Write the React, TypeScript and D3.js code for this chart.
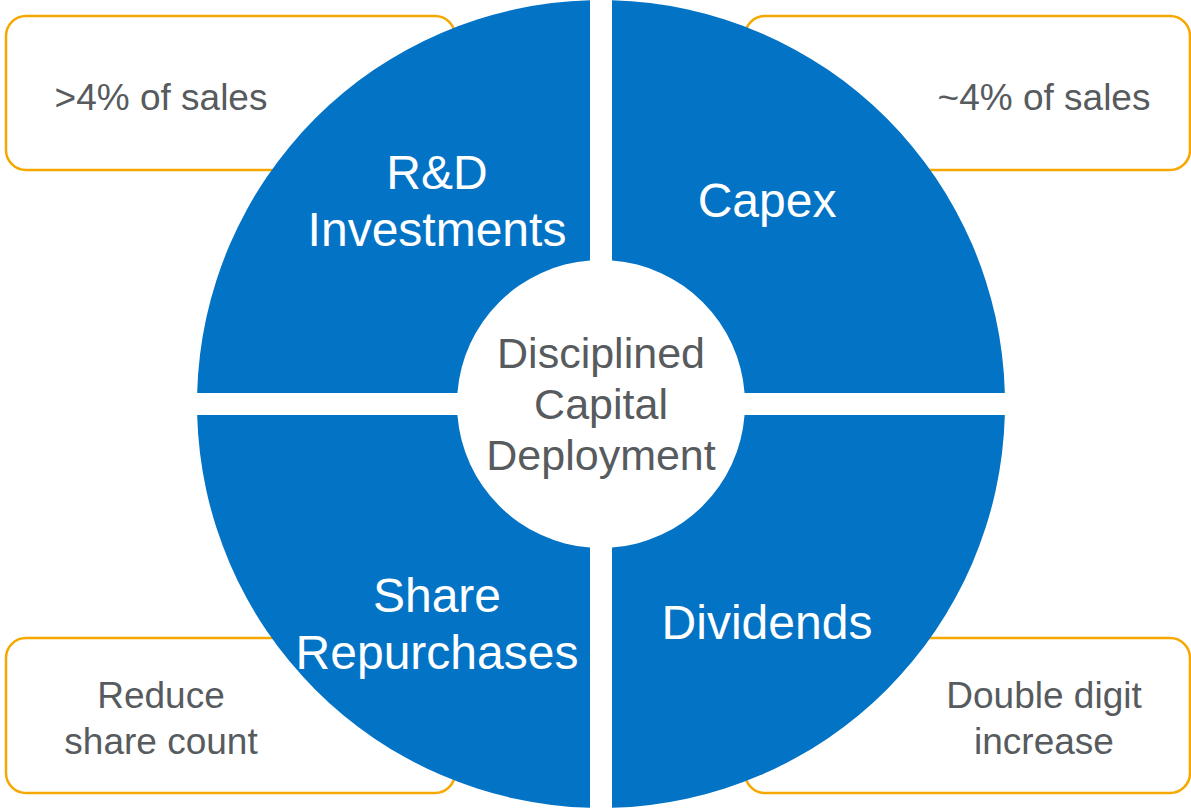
import React from "react";
import { pie, arc, PieArcDatum } from "d3";

const width = 1191;
const height = 808;

// chart setup
const center = { x: 601, y: 404 };
const outerR = 404;
const innerR = 144;
const gap = 22;

const blue = "#0373C6";
const orange = "#F7A800";
const gray = "#575B5E";

// Data
const quadrants = ["Capex", "Dividends", "Share Repurchases", "R&D Investments"];
const quadrantLines = [["Capex"], ["Dividends"], ["Share", "Repurchases"], ["R&D", "Investments"]];
const quadrantWeights = [1, 1, 1, 1];
const centerLines = ["Disciplined", "Capital", "Deployment"];
const boxLines = [["~4% of sales"], ["Double digit", "increase"], ["Reduce", "share count"], [">4% of sales"]];

// label placement (relative to the centre), in pie order
const labelOffsets = [
  { dx: 166, dy: -187 },
  { dx: 166, dy: 235 },
  { dx: -164, dy: 208 },
  { dx: -164, dy: -215 },
];
const boxes = [
  { x: 745, y: 16, w: 445, h: 154, tx: 1044, ty: 110 },
  { x: 745, y: 638, w: 445, h: 155, tx: 1044, ty: 708 },
  { x: 6, y: 638, w: 449, h: 155, tx: 161, ty: 708 },
  { x: 6, y: 16, w: 449, h: 154, tx: 161, ty: 110 },
];

const font = "'Liberation Sans', Arial, sans-serif";

export default function App() {
  const pieGen = pie<number>()
    .sort(null)
    .padAngle(gap / outerR);
  const arcs = pieGen(quadrantWeights);
  const arcGen = arc<PieArcDatum<number>>()
    .innerRadius(innerR)
    .outerRadius(outerR)
    .padRadius(outerR);

  return (
    <svg
      width={width}
      height={height}
      style={{ position: "absolute", left: 0, top: 0, background: "#fff" }}
      fontFamily={font}
    >
      {/* side boxes sit behind the wheel */}
      {boxes.map((b, i) => (
        <g key={"box" + i}>
          <rect
            x={b.x}
            y={b.y}
            width={b.w}
            height={b.h}
            rx={20}
            fill="#fff"
            stroke={orange}
            strokeWidth={2.5}
          />
          <text x={b.tx} y={b.ty} textAnchor="middle" fontSize={37} fill={gray}>
            {boxLines[i].map((l, j) => (
              <tspan key={j} x={b.tx} dy={j === 0 ? 0 : 46}>
                {l}
              </tspan>
            ))}
          </text>
        </g>
      ))}

      <g transform={`translate(${center.x},${center.y})`}>
        {arcs.map((a, i) => (
          <path key={quadrants[i]} d={arcGen(a) || ""} fill={blue} />
        ))}
        {arcs.map((a, i) => {
          const o = labelOffsets[i];
          return (
            <text
              key={"lab" + i}
              x={o.dx}
              y={o.dy}
              textAnchor="middle"
              fontSize={48}
              fill="#fff"
            >
              {quadrantLines[i].map((l, j) => (
                <tspan key={j} x={o.dx} dy={j === 0 ? 0 : 57}>
                  {l}
                </tspan>
              ))}
            </text>
          );
        })}
        <text y={-36} textAnchor="middle" fontSize={43} fill={gray}>
          {centerLines.map((l, j) => (
            <tspan key={j} x={0} dy={j === 0 ? 0 : 51}>
              {l}
            </tspan>
          ))}
        </text>
      </g>
    </svg>
  );
}
